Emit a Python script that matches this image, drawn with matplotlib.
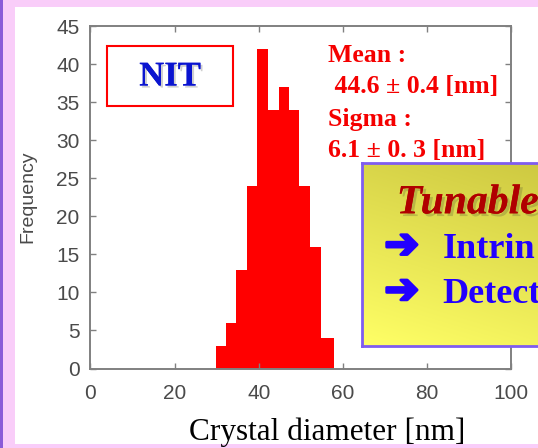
import matplotlib
matplotlib.use('Agg')
import matplotlib.pyplot as plt
import numpy as np
from matplotlib.patches import Rectangle
import matplotlib.patheffects as pe

# ---- data ----
bin_edges = [29.8, 32.3, 34.7, 37.2, 39.7, 42.3, 44.8, 47.3, 49.7, 52.2, 54.8, 57.8]
counts = [3, 6, 13, 24, 42, 34, 37, 34, 24, 16, 4]
x_ticks = [0, 20, 40, 60, 80, 100]
y_ticks = [0, 5, 10, 15, 20, 25, 30, 35, 40, 45]
x_label = "Crystal diameter [nm]"
y_label = "Frequency"
box_label = "NIT"
stats_lines = ["Mean :", " 44.6 \u00b1 0.4 [nm]", "Sigma :", "6.1 \u00b1 0. 3 [nm]"]
callout_title = "Tunable"
callout_items = ["Intrin", "Detect"]

W, H = 538, 448
def fx(px):
    return px / W
def fy(py):
    return 1 - py / H

fig = plt.figure(figsize=(W / 100, H / 100), dpi=100)
fig.patch.set_facecolor('#f9cdf9')

# white slide panel and purple edge
fig.patches.append(Rectangle((fx(15), fy(444)), 1.0, fy(7) - fy(444),
                             transform=fig.transFigure, facecolor='white',
                             edgecolor='none', zorder=-10))
fig.patches.append(Rectangle((0, 0), fx(3), 1, transform=fig.transFigure,
                             facecolor='#8a5ad8', edgecolor='none', zorder=-10))

# ---- histogram axes ----
ax = fig.add_axes([fx(90.5), fy(368.5), fx(511) - fx(90.5), fy(26) - fy(368.5)])
ax.set_facecolor('white')
lefts = bin_edges[:-1]
widths = np.diff(bin_edges)
ax.bar(lefts, counts, width=widths, align='edge', color='#ff0000',
       edgecolor='none', linewidth=0)
ax.set_xlim(0, 100)
ax.set_ylim(0, 45)
ax.set_xticks(x_ticks)
ax.set_yticks(y_ticks)
ax.set_xticklabels([str(t) for t in x_ticks])
ax.set_yticklabels([str(t) for t in y_ticks])
for s in ax.spines.values():
    s.set_color('#808080')
    s.set_linewidth(1.4)
ax.tick_params(direction='in', length=4, width=1, color='#808080',
               top=True, right=True, labelsize=15, labelcolor='#4a4a4a')
ax.tick_params(axis='y', pad=8)
ax.tick_params(axis='x', pad=11)
for lab in ax.get_xticklabels() + ax.get_yticklabels():
    lab.set_family('Liberation Sans')

fig.text(fx(28), fy(197), y_label, rotation=90, ha='center', va='center',
         fontsize=14, color='#4a4a4a', family='Liberation Sans')

fig.text(fx(327), fy(440), x_label, ha='center', va='baseline',
         fontsize=22.5, color='black', family='Liberation Serif')

# NIT box
fig.patches.append(Rectangle((fx(106.7), fy(106)), fx(232.7) - fx(106.7),
                             fy(45.7) - fy(106), transform=fig.transFigure,
                             facecolor='white', edgecolor='#ff0000',
                             linewidth=1.5, zorder=3))
fig.text(fx(170), fy(77), box_label, ha='center', va='center', fontsize=25,
         fontweight='bold', color='#0a14d0', family='Liberation Serif',
         zorder=4,
         path_effects=[pe.withSimplePatchShadow(offset=(1.5, -1.5),
                                                shadow_rgbFace='#888888',
                                                alpha=0.4), pe.Normal()])

# stats text
baselines = [61.7, 93.3, 126, 157.3]
for line, b in zip(stats_lines, baselines):
    fig.text(fx(327.7), fy(b), line, ha='left', va='baseline', fontsize=18.5,
             fontweight='bold', color='#f50000', family='Liberation Serif',
             zorder=4)

# ---- callout box with gradient ----
bx0, by0, by1 = 362, 163, 346
cax = fig.add_axes([fx(bx0), fy(by1), 1.2 - fx(bx0), fy(by0) - fy(by1)])
yy, xx = np.mgrid[0:1:200j, 0:1:200j]
t = np.clip(0.75 * (1 - yy) + 0.35 * xx, 0, 1)  # yy=0 top
c_bright = np.array([1.0, 1.0, 0.40])
c_dark = np.array([0.80, 0.78, 0.25])
img = c_bright[None, None, :] * (1 - t[..., None]) + c_dark[None, None, :] * t[..., None]
img = img[::-1]
cax.imshow(img, extent=[0, 1, 0, 1], aspect='auto', origin='lower')
cax.set_xticks([])
cax.set_yticks([])
for s in cax.spines.values():
    s.set_color('#7f5cf0')
    s.set_linewidth(2)
cax.set_zorder(5)

fig.text(fx(396.7), fy(213.3), callout_title, ha='left', va='baseline',
         fontsize=30, fontweight='bold', style='italic', color='#b00000',
         family='Liberation Serif', zorder=6,
         path_effects=[pe.withSimplePatchShadow(offset=(2, -2),
                                                shadow_rgbFace='#666633',
                                                alpha=0.3), pe.Normal()])
arrow_centers = [245.7, 291]
item_baselines = [258.3, 303.3]
for item, ac, b in zip(callout_items, arrow_centers, item_baselines):
    fig.text(fx(384.3), fy(ac), "\u2794", ha='left', va='center', fontsize=30,
             color='#2200ff', family=['DejaVu Sans'], zorder=6,
             path_effects=[pe.withStroke(linewidth=2, foreground='#2200ff')])
    fig.text(fx(442.3), fy(b), item, ha='left', va='baseline', fontsize=26,
             fontweight='bold', color='#2200ff', family='Liberation Serif',
             zorder=6)

fig.savefig('out.png', dpi=100)
